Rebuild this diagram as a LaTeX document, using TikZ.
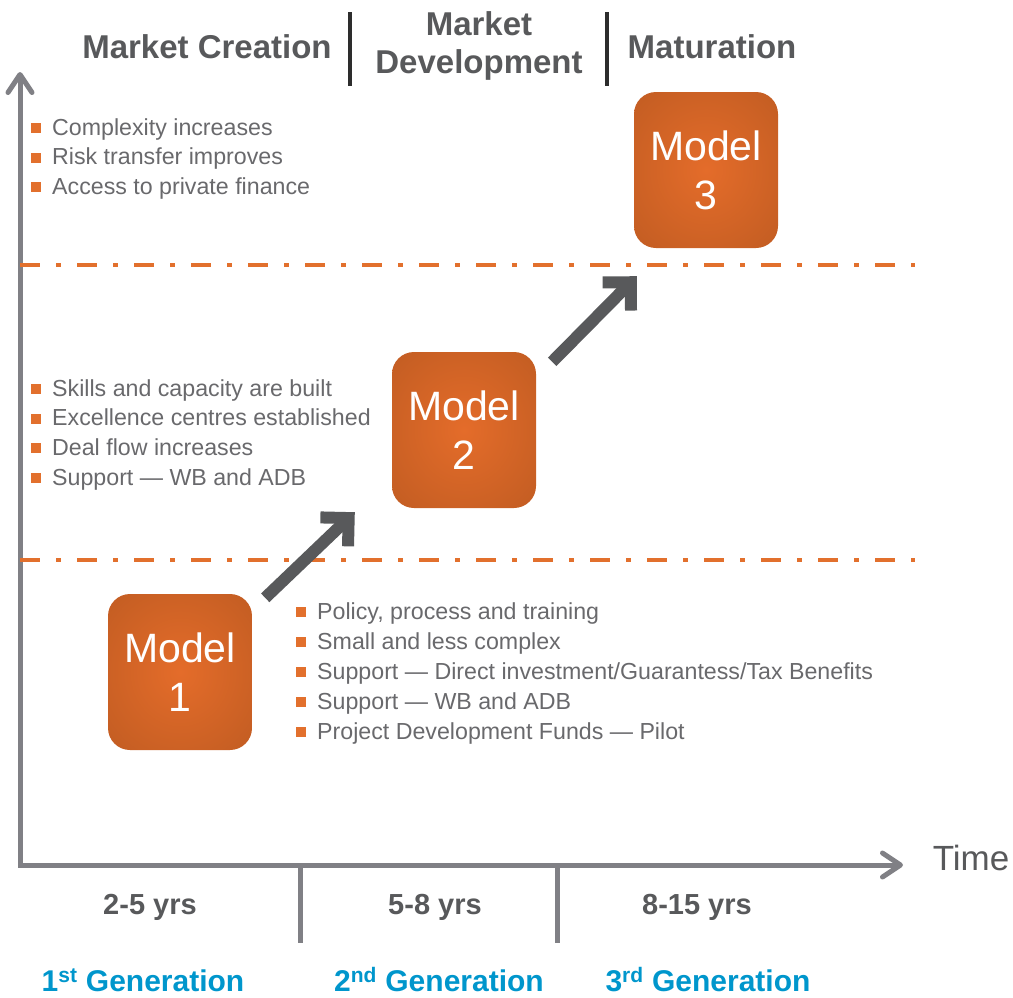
\documentclass[tikz,border=0pt]{standalone}
\usepackage{fontspec}
\setmainfont{Liberation Sans}
\usetikzlibrary{arrows.meta}
\definecolor{accent}{RGB}{226,112,45}
\definecolor{boxlight}{RGB}{228,108,42}
\definecolor{boxdark}{RGB}{184,88,32}
\definecolor{axisgray}{RGB}{128,128,133}
\definecolor{textgray}{RGB}{105,105,108}
\definecolor{headgray}{RGB}{88,89,91}
\definecolor{darkline}{RGB}{45,45,45}
\definecolor{gencolor}{RGB}{0,150,204}
\pgfdeclareradialshading{modelglow}{\pgfpoint{0bp}{0bp}}{color(0bp)=(boxlight); color(46bp)=(boxdark); color(100bp)=(boxdark)}
\newcommand{\obul}{\textcolor{accent}{\rule[2pt]{10pt}{10pt}}\hspace{11pt}}
\tikzstyle{model} = [rectangle, rounded corners=22pt,
                     minimum width=144pt, minimum height=156pt,
                     inner sep=0pt, shading=modelglow, text=white,
                     align=center, font=\fontsize{41}{49}\selectfont]
\tikzstyle{item} = [anchor=base west, inner sep=0pt, text=textgray,
                    font=\fontsize{23.2}{29}\selectfont]
\tikzstyle{phase} = [text=headgray, align=center, inner sep=0pt,
                     font=\fontsize{33}{38}\selectfont\bfseries]
\tikzstyle{years} = [text=headgray, inner sep=0pt,
                     font=\fontsize{29}{34}\selectfont\bfseries]
\tikzstyle{generation} = [text=gencolor, inner sep=0pt,
                          font=\fontsize{30}{34}\selectfont\bfseries]
\tikzstyle{divider} = [darkline, line width=4pt]
\tikzstyle{axis} = [axisgray, line width=5pt,
                    -{Straight Barb[length=18pt, width=24pt, round]}]
\tikzstyle{tick} = [axisgray, line width=5pt]
\tikzstyle{level} = [accent, line width=4pt,
                     dash pattern=on 20pt off 16pt on 5pt off 16pt]
\tikzstyle{growth} = [headgray, line width=12pt,
                      -{Straight Barb[length=20pt, width=40pt]}]

\begin{document}
\begin{tikzpicture}[x=1pt, y=-1pt]
        \useasboundingbox (0,0) rectangle (1013,997);

        % phases along the top
        \node (creation) [phase] at (207,47) {Market Creation};
        \node (development) [phase] at (479,46) {Market\\Development};
        \node (maturation) [phase] at (712,47) {Maturation};
        \draw [divider] (350,12) -- (350,86);
        \draw [divider] (607,12) -- (607,86);

        % axes
        \coordinate (origin) at (20,865);
        \coordinate (ytop) at (20,72);
        \coordinate (xend) at (903,865);
        \draw [axis] ([yshift=2pt]origin) -- (ytop);
        \draw [axis] ([xshift=-2pt]origin) -- (xend);
        \node (time) [text=headgray, font=\fontsize{35}{40}\selectfont] at (971,858) {Time};

        % levels
        \draw [level] (20,265) -- (915,265);
        \draw [level] (20,560) -- (915,560);

        \node (m1) [model] at (180,672) {Model\\1};
        \node (m2) [model] at (464,430) {Model\\2};
        \node (m3) [model] at (706,170) {Model\\3};

        \draw [growth] ([shift={(13,4)}]m1.north east) -- ([shift={(-37,4)}]m2.south west);
        \draw [growth] ([shift={(16,10)}]m2.north east) -- ([shift={(3,28)}]m3.south west);

        % bullet lists
        \foreach \line [count=\i] in {Complexity increases, Risk transfer improves, Access to private finance}
            \node (high\i) [item] at (31,{135+29.5*(\i-1)}) {\obul\line};
        \foreach \line [count=\i] in {Skills and capacity are built, Excellence centres established, Deal flow increases, Support — WB and ADB}
            \node (mid\i) [item] at (31,{396+29.7*(\i-1)}) {\obul\line};
        \foreach \line [count=\i] in {{Policy, process and training}, Small and less complex, Support — Direct investment/Guarantess/Tax Benefits, Support — WB and ADB, Project Development Funds — Pilot}
            \node (low\i) [item] at (296,{619+30*(\i-1)}) {\obul\line};

        % time scale
        \draw [tick] (300,865) -- (300,943);
        \draw [tick] (557,865) -- (557,943);
        \node (yrs1) [years] at (150,907) {2-5 yrs};
        \node (yrs2) [years] at (435,907) {5-8 yrs};
        \node (yrs3) [years] at (697,907) {8-15 yrs};
        \node (gen1) [generation] at (143,980) {1\textsuperscript{st} Generation};
        \node (gen2) [generation] at (439,980) {2\textsuperscript{nd} Generation};
        \node (gen3) [generation] at (708,980) {3\textsuperscript{rd} Generation};

    \end{tikzpicture}
\end{document}
